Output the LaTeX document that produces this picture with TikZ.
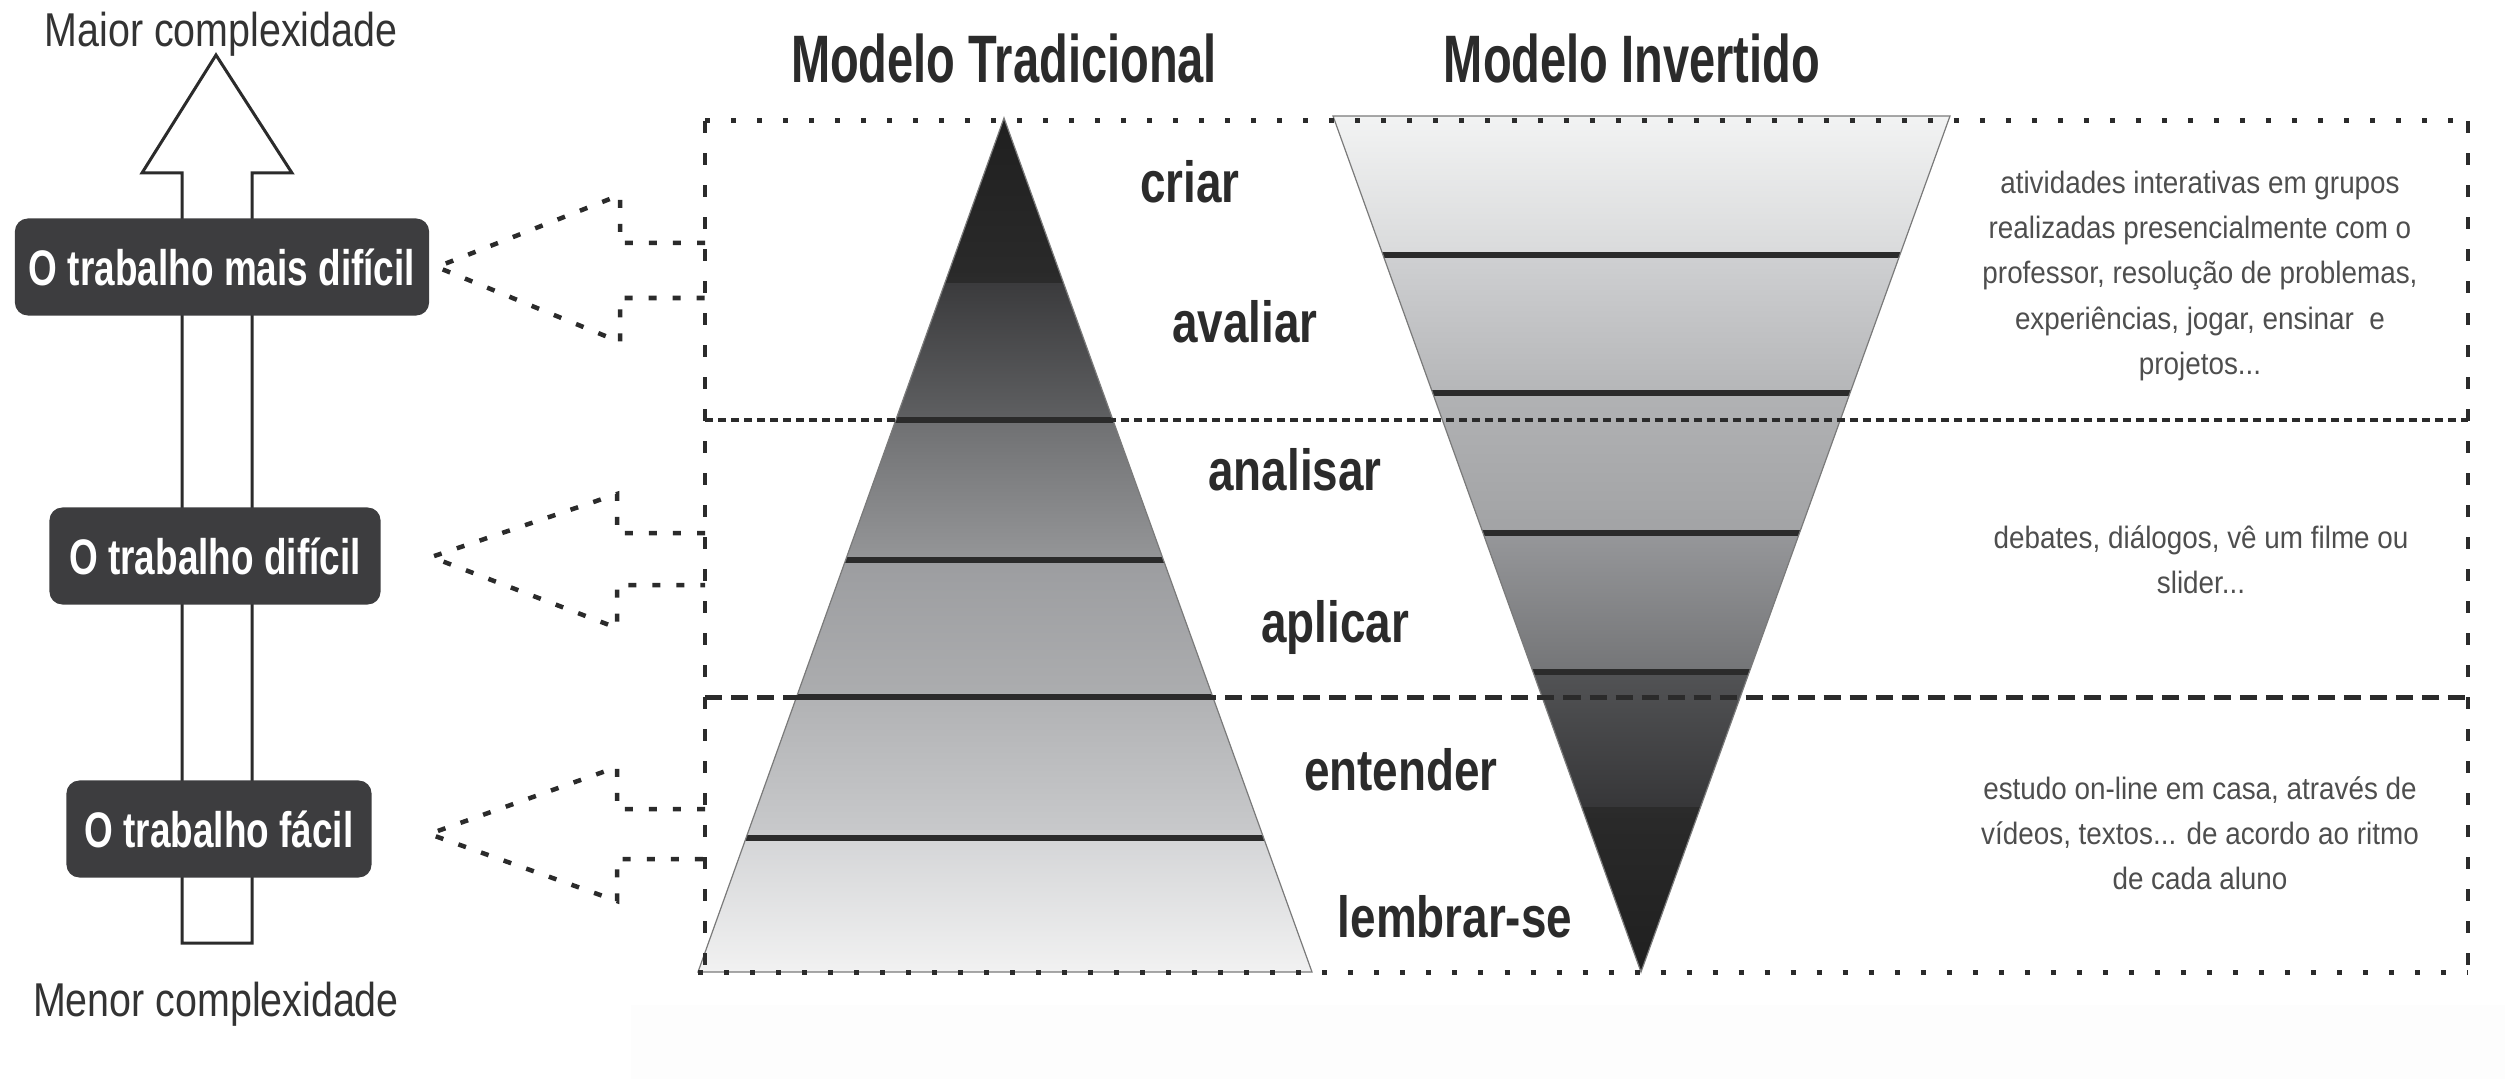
\documentclass[tikz,border=0pt]{standalone}
\usepackage{fontspec}
\setmainfont{Liberation Sans}
\newfontfamily\fnttitle{Liberation Sans}[FakeStretch=0.70]
\newfontfamily\fntlevel{Liberation Sans}[FakeStretch=0.79]
\newfontfamily\fntbox{Liberation Sans}[FakeStretch=0.74]
\newfontfamily\fntside{Liberation Sans}[FakeStretch=0.83]
\newfontfamily\fntnote{Liberation Sans}[FakeStretch=0.90]
\usetikzlibrary{calc}

\definecolor{ink}{HTML}{2B2B2B}
\definecolor{boxfill}{HTML}{3D3D3F}
\definecolor{notegray}{HTML}{4E4E4E}
\definecolor{sidegray}{HTML}{333333}
\definecolor{edgegray}{HTML}{7A7A7A}
\definecolor{faint}{HTML}{FDFDFD}
% bands of the traditional pyramid (top colour / bottom colour)
\definecolor{pAt}{HTML}{1F1F1F}\definecolor{pAb}{HTML}{2A2A2A}
\definecolor{pBt}{HTML}{3A3A3C}\definecolor{pBb}{HTML}{5F6062}
\definecolor{pCt}{HTML}{6F7072}\definecolor{pCb}{HTML}{959698}
\definecolor{pDt}{HTML}{9C9DA0}\definecolor{pDb}{HTML}{ACADAF}
\definecolor{pEt}{HTML}{B1B2B4}\definecolor{pEb}{HTML}{C9CACC}
\definecolor{pFt}{HTML}{D4D5D7}\definecolor{pFb}{HTML}{F3F3F3}
% bands of the inverted funnel
\definecolor{vAt}{HTML}{F3F4F4}\definecolor{vAb}{HTML}{D9DADB}
\definecolor{vBt}{HTML}{CFD0D2}\definecolor{vBb}{HTML}{B5B6B8}
\definecolor{vCt}{HTML}{B1B2B4}\definecolor{vCb}{HTML}{A2A3A5}
\definecolor{vDt}{HTML}{96979A}\definecolor{vDb}{HTML}{747577}
\definecolor{vEt}{HTML}{525355}\definecolor{vEb}{HTML}{363638}
\definecolor{vFt}{HTML}{2A2A2A}\definecolor{vFb}{HTML}{1F1F1F}

\tikzset{
  title/.style={font=\fnttitle\bfseries\fontsize{19.1}{22}\selectfont, text=ink, anchor=base, inner sep=0pt},
  level/.style={font=\fntlevel\bfseries\fontsize{16.5}{19}\selectfont, text=ink, anchor=base, inner sep=0pt},
  side/.style={font=\fntside\fontsize{13.5}{16}\selectfont, text=sidegray, anchor=base, inner sep=0pt},
  work/.style={fill=boxfill, rounded corners=0.13cm, text=white,
    font=\fntbox\bfseries\fontsize{14.2}{16}\selectfont, minimum height=0.97cm, inner xsep=0pt},
  note/.style={font=\fntnote\fontsize{8.8}{12.8}\selectfont, text=notegray, align=center, inner sep=0pt},
  bandline/.style={draw=ink, line width=0.055cm},
  shape edge/.style={draw=edgegray, line width=0.012cm},
  dotrule/.style={draw=ink, line width=0.05cm, dash pattern=on 0.05cm off 0.21cm},
  finerule/.style={draw=ink, line width=0.045cm, dash pattern=on 0.08cm off 0.05cm},
  dashrule/.style={draw=ink, line width=0.05cm, dash pattern=on 0.17cm off 0.09cm},
  siderule/.style={draw=ink, line width=0.045cm, dash pattern=on 0.12cm off 0.2cm},
  callout/.style={draw=ink, line width=0.045cm, dash pattern=on 0.08cm off 0.16cm},
  bigarrow/.style={draw=ink, fill=white, line width=0.03cm, line join=miter}
}

\begin{document}
\begin{tikzpicture}[x=0.01cm, y=-0.01cm]
\useasboundingbox (0,0) rectangle (2505,1079);

% very light strip along the lower edge
\fill[faint] (631,1005) rectangle (2505,1079);

% complexity axis: hollow upward arrow
\draw[bigarrow] (182,943) -- (182,173) -- (142,173) -- (216,55) -- (292,173)
  -- (252,173) -- (252,943) -- cycle;
\node[side] (maior) at (221,47) {Maior complexidade};
\node[side] (menor) at (216,1016) {Menor complexidade};

% work levels
\node[work, minimum width=4.14cm] (b1) at (222,267) {O trabalho mais difícil};
\node[work, minimum width=3.31cm] (b2) at (215,556) {O trabalho difícil};
\node[work, minimum width=3.05cm] (b3) at (219,829) {O trabalho fácil};

% traditional pyramid
\begin{scope}
  \clip (1004,118) -- (1312,972) -- (698,972) -- cycle;
  \shade[top color=pAt, bottom color=pAb] (690,110) rectangle (1320,280);
  \shade[top color=pBt, bottom color=pBb] (690,280) rectangle (1320,420);
  \shade[top color=pCt, bottom color=pCb] (690,420) rectangle (1320,560);
  \shade[top color=pDt, bottom color=pDb] (690,560) rectangle (1320,697);
  \shade[top color=pEt, bottom color=pEb] (690,697) rectangle (1320,838);
  \shade[top color=pFt, bottom color=pFb] (690,838) rectangle (1320,980);
  \foreach \yy in {280,420,560,697,838}
    \draw[bandline] (690,\yy) -- (1320,\yy);
\end{scope}
\draw[shape edge] (1004,118) -- (1312,972) -- (698,972) -- cycle;

% inverted funnel
\begin{scope}
  \clip (1333,116) -- (1950,116) -- (1641,972) -- cycle;
  \shade[top color=vAt, bottom color=vAb] (1320,110) rectangle (1960,255);
  \shade[top color=vBt, bottom color=vBb] (1320,255) rectangle (1960,393);
  \shade[top color=vCt, bottom color=vCb] (1320,393) rectangle (1960,533);
  \shade[top color=vDt, bottom color=vDb] (1320,533) rectangle (1960,672);
  \shade[top color=vEt, bottom color=vEb] (1320,672) rectangle (1960,810);
  \shade[top color=vFt, bottom color=vFb] (1320,810) rectangle (1960,980);
  \foreach \yy in {255,393,533,672,810}
    \draw[bandline] (1320,\yy) -- (1960,\yy);
\end{scope}
\draw[shape edge] (1333,116) -- (1950,116) -- (1641,972) -- cycle;

% titles
\node[title] (t1) at (1004,83) {Modelo Tradicional};
\node[title] (t2) at (1632,83) {Modelo Invertido};

% level names
\node[level] (l1) at (1190,203) {criar};
\node[level] (l2) at (1245,343) {avaliar};
\node[level] (l3) at (1295,490) {analisar};
\node[level] (l4) at (1335,642) {aplicar};
\node[level] (l5) at (1401,790) {entender};
\node[level] (l6) at (1455,937) {lembrar-se};

% frame of the three zones
\draw[dotrule] (705,121) -- (2468,121);
\draw[dotrule] (698,972) -- (2468,972);
\draw[finerule] (705,420) -- (2468,420);
\draw[dashrule] (705,697) -- (2468,697);
\draw[siderule] (705,121) -- (705,972);
\draw[siderule] (2468,121) -- (2468,972);

% zone descriptions
\node[note] (n1) at (2200,276) {atividades interativas em grupos\\
  realizadas presencialmente com o\\
  professor, resolução de problemas,\\
  experiências, jogar, ensinar\ \ e\\
  projetos...};
\node[note] (n2) at (2201,560) {debates, diálogos, vê um filme ou\\ slider...};
\node[note] (n3) at (2200,833) {estudo on-line em casa, através de\\
  vídeos, textos... de acordo ao ritmo\\
  de cada aluno};

% hollow dashed arrows from each work level to its zone
\coordinate (z1a) at (705,243); \coordinate (z1b) at (705,298);
\coordinate (z2a) at (705,533); \coordinate (z2b) at (705,585);
\coordinate (z3a) at (705,809); \coordinate (z3b) at (705,859);

\draw[callout] (z1a) -- (620,243) -- (620,195) -- ($(b1.east)+(7,0)$)
  -- (620,342) -- (620,298) -- (z1b);
\draw[callout] (z2a) -- (617,533) -- (617,494) -- ($(b2.east)+(50,1)$)
  -- (617,628) -- (617,585) -- (z2b);
\draw[callout] (z3a) -- (617,809) -- (617,767) -- ($(b3.east)+(57,5)$)
  -- (617,901) -- (617,859) -- (z3b);
\end{tikzpicture}
\end{document}
